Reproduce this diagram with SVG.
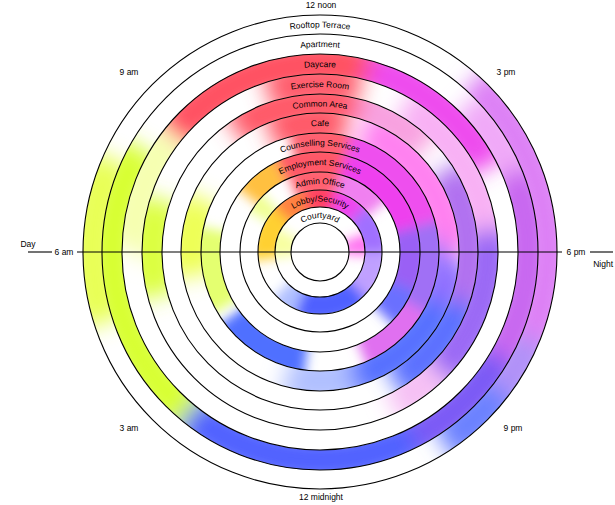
<svg xmlns="http://www.w3.org/2000/svg" xmlns:xlink="http://www.w3.org/1999/xlink" width="615" height="505" viewBox="0 0 615 505">
<style>
text{font-family:"Liberation Sans","Open Sans",sans-serif;font-size:8.5px;fill:#000}
.ring{fill:none;stroke:#000;stroke-width:1.1}
.seg{fill:none}
.lbl{text-anchor:middle}
</style>
<defs>
<filter id="b1" x="-20%" y="-20%" width="140%" height="140%"><feGaussianBlur stdDeviation="11"/></filter>
<filter id="b2" x="-30%" y="-30%" width="160%" height="160%"><feGaussianBlur stdDeviation="6"/></filter>
<clipPath id="c0"><path clip-rule="evenodd" d="M83 252a237 237 0 1 0 474 0a237 237 0 1 0 -474 0ZM102 252a218 218 0 1 0 436 0a218 218 0 1 0 -436 0Z"/></clipPath>
<clipPath id="c1"><path clip-rule="evenodd" d="M102 252a218 218 0 1 0 436 0a218 218 0 1 0 -436 0ZM122 252a198 198 0 1 0 396 0a198 198 0 1 0 -396 0Z"/></clipPath>
<clipPath id="c2"><path clip-rule="evenodd" d="M122 252a198 198 0 1 0 396 0a198 198 0 1 0 -396 0ZM142 252a178 178 0 1 0 356 0a178 178 0 1 0 -356 0Z"/></clipPath>
<clipPath id="c3"><path clip-rule="evenodd" d="M142 252a178 178 0 1 0 356 0a178 178 0 1 0 -356 0ZM162 252a158 158 0 1 0 316 0a158 158 0 1 0 -316 0Z"/></clipPath>
<clipPath id="c4"><path clip-rule="evenodd" d="M162 252a158 158 0 1 0 316 0a158 158 0 1 0 -316 0ZM181 252a139 139 0 1 0 278 0a139 139 0 1 0 -278 0Z"/></clipPath>
<clipPath id="c5"><path clip-rule="evenodd" d="M181 252a139 139 0 1 0 278 0a139 139 0 1 0 -278 0ZM201 252a119 119 0 1 0 238 0a119 119 0 1 0 -238 0Z"/></clipPath>
<clipPath id="c6"><path clip-rule="evenodd" d="M201 252a119 119 0 1 0 238 0a119 119 0 1 0 -238 0ZM220 252a100 100 0 1 0 200 0a100 100 0 1 0 -200 0Z"/></clipPath>
<clipPath id="c7"><path clip-rule="evenodd" d="M220 252a100 100 0 1 0 200 0a100 100 0 1 0 -200 0ZM240 252a80 80 0 1 0 160 0a80 80 0 1 0 -160 0Z"/></clipPath>
<clipPath id="c8"><path clip-rule="evenodd" d="M240 252a80 80 0 1 0 160 0a80 80 0 1 0 -160 0ZM258 252a62 62 0 1 0 124 0a62 62 0 1 0 -124 0Z"/></clipPath>
<clipPath id="c9"><path clip-rule="evenodd" d="M258 252a62 62 0 1 0 124 0a62 62 0 1 0 -124 0ZM275 252a45 45 0 1 0 90 0a45 45 0 1 0 -90 0Z"/></clipPath>
<clipPath id="c10"><path clip-rule="evenodd" d="M275 252a45 45 0 1 0 90 0a45 45 0 1 0 -90 0ZM291 252a29 29 0 1 0 58 0a29 29 0 1 0 -58 0Z"/></clipPath>
<path id="t0" d="M95.5 252A224.5 224.5 0 0 1 544.5 252"/>
<path id="t1" d="M115 252A205 205 0 0 1 525 252"/>
<path id="t2" d="M135 252A185 185 0 0 1 505 252"/>
<path id="t3" d="M155 252A165 165 0 0 1 485 252"/>
<path id="t4" d="M174.5 252A145.5 145.5 0 0 1 465.5 252"/>
<path id="t5" d="M194 252A126 126 0 0 1 446 252"/>
<path id="t6" d="M213.5 252A106.5 106.5 0 0 1 426.5 252"/>
<path id="t7" d="M233 252A87 87 0 0 1 407 252"/>
<path id="t8" d="M252 252A68 68 0 0 1 388 252"/>
<path id="t9" d="M269.5 252A50.5 50.5 0 0 1 370.5 252"/>
<path id="t10" d="M286 252A34 34 0 0 1 354 252"/>
</defs>
<rect width="615" height="505" fill="#fff"/>
<g id="colour-bands">
<g clip-path="url(#c0)"><g filter="url(#b1)" class="seg" stroke-width="50">
<circle cx="320" cy="252" r="227.5" pathLength="24" stroke="#e8ff55" stroke-dasharray="2.8 21.2" stroke-dashoffset="-10.8"/>
<circle cx="320" cy="252" r="227.5" pathLength="24" stroke="#dd80f5" stroke-dasharray="4.7 19.3" stroke-dashoffset="-20.8"/>
<circle cx="320" cy="252" r="227.5" pathLength="24" stroke="#b090f8" stroke-dasharray="1 23" stroke-dashoffset="-1.5"/>
<circle cx="320" cy="252" r="227.5" pathLength="24" stroke="#6a80ff" stroke-dasharray="1.3 22.7" stroke-dashoffset="-2.5"/>
</g></g>
<g clip-path="url(#c1)"><g filter="url(#b1)" class="seg" stroke-width="50">
<circle cx="320" cy="252" r="208" pathLength="24" stroke="#d8ff30" stroke-dasharray="5.4 18.6" stroke-dashoffset="-8.6"/>
<circle cx="320" cy="252" r="208" pathLength="24" stroke="#5060ff" stroke-dasharray="4.4 19.6" stroke-dashoffset="-4.2"/>
<circle cx="320" cy="252" r="208" pathLength="24" stroke="#7a58f5" stroke-dasharray="2.2 21.8" stroke-dashoffset="-2"/>
<circle cx="320" cy="252" r="208" pathLength="24" stroke="#c866f0" stroke-dasharray="3.5 20.5" stroke-dashoffset="-22.5"/>
<circle cx="320" cy="252" r="208" pathLength="24" stroke="#f0a8f8" stroke-dasharray="1.5 22.5" stroke-dashoffset="-21"/>
</g></g>
<g clip-path="url(#c2)"><g filter="url(#b1)" class="seg" stroke-width="50">
<circle cx="320" cy="252" r="188" pathLength="24" stroke="#f6ffb0" stroke-dasharray="2.5 21.5" stroke-dashoffset="-12"/>
<circle cx="320" cy="252" r="188" pathLength="24" stroke="#ff5060" stroke-dasharray="4.4 19.6" stroke-dashoffset="-14.6"/>
<circle cx="320" cy="252" r="188" pathLength="24" stroke="#ee48ee" stroke-dasharray="3.2 20.8" stroke-dashoffset="-19"/>
</g></g>
<g clip-path="url(#c3)"><g filter="url(#b1)" class="seg" stroke-width="50">
<circle cx="320" cy="252" r="168" pathLength="24" stroke="#dcff40" stroke-dasharray="2.2 21.8" stroke-dashoffset="-11"/>
<circle cx="320" cy="252" r="168" pathLength="24" stroke="#ff5c6c" stroke-dasharray="2.1 21.9" stroke-dashoffset="-16.8"/>
<circle cx="320" cy="252" r="168" pathLength="24" stroke="#f8b0f4" stroke-dasharray="3.5 20.5" stroke-dashoffset="-20"/>
<circle cx="320" cy="252" r="168" pathLength="24" stroke="#9a68f5" stroke-dasharray="3.5 20.5" stroke-dashoffset="-23.5"/>
<circle cx="320" cy="252" r="168" pathLength="24" stroke="#f6c0f4" stroke-dasharray="1.3 22.7" stroke-dashoffset="-3"/>
</g></g>
<g clip-path="url(#c4)"><g filter="url(#b1)" class="seg" stroke-width="50">
<circle cx="320" cy="252" r="148.5" pathLength="24" stroke="#ff5868" stroke-dasharray="3.3 20.7" stroke-dashoffset="-15.7"/>
<circle cx="320" cy="252" r="148.5" pathLength="24" stroke="#f8a0e0" stroke-dasharray="2 22" stroke-dashoffset="-19"/>
<circle cx="320" cy="252" r="148.5" pathLength="24" stroke="#b070f0" stroke-dasharray="3.5 20.5" stroke-dashoffset="-21.8"/>
<circle cx="320" cy="252" r="148.5" pathLength="24" stroke="#5a70ff" stroke-dasharray="2.7 21.3" stroke-dashoffset="-1.3"/>
</g></g>
<g clip-path="url(#c5)"><g filter="url(#b1)" class="seg" stroke-width="50">
<circle cx="320" cy="252" r="129" pathLength="24" stroke="#eeff55" stroke-dasharray="2.3 21.7" stroke-dashoffset="-11.3"/>
<circle cx="320" cy="252" r="129" pathLength="24" stroke="#ff5868" stroke-dasharray="2.3 21.7" stroke-dashoffset="-16.5"/>
<circle cx="320" cy="252" r="129" pathLength="24" stroke="#ff80f0" stroke-dasharray="4.7 19.3" stroke-dashoffset="-19.3"/>
<circle cx="320" cy="252" r="129" pathLength="24" stroke="#9070ff" stroke-dasharray="1.5 22.5" stroke-dashoffset="0"/>
<circle cx="320" cy="252" r="129" pathLength="24" stroke="#5570ff" stroke-dasharray="3.5 20.5" stroke-dashoffset="-1.5"/>
<circle cx="320" cy="252" r="129" pathLength="24" stroke="#b0c0ff" stroke-dasharray="2 22" stroke-dashoffset="-5"/>
</g></g>
<g clip-path="url(#c6)"><g filter="url(#b2)" class="seg" stroke-width="40">
<circle cx="320" cy="252" r="109.5" pathLength="24" stroke="#e4ff70" stroke-dasharray="2.8 21.2" stroke-dashoffset="-10"/>
<circle cx="320" cy="252" r="109.5" pathLength="24" stroke="#5070ff" stroke-dasharray="3.1 20.9" stroke-dashoffset="-6.5"/>
<circle cx="320" cy="252" r="109.5" pathLength="24" stroke="#ff6070" stroke-dasharray="2 22" stroke-dashoffset="-17"/>
<circle cx="320" cy="252" r="109.5" pathLength="24" stroke="#ee50ee" stroke-dasharray="4 20" stroke-dashoffset="-19"/>
<circle cx="320" cy="252" r="109.5" pathLength="24" stroke="#a070f5" stroke-dasharray="3 21" stroke-dashoffset="-23"/>
<circle cx="320" cy="252" r="109.5" pathLength="24" stroke="#e070f0" stroke-dasharray="2.5 21.5" stroke-dashoffset="-2"/>
</g></g>
<g clip-path="url(#c7)"><g filter="url(#b2)" class="seg" stroke-width="40">
<circle cx="320" cy="252" r="90" pathLength="24" stroke="#ffc040" stroke-dasharray="1.8 22.2" stroke-dashoffset="-14.5"/>
<circle cx="320" cy="252" r="90" pathLength="24" stroke="#ff5868" stroke-dasharray="2.7 21.3" stroke-dashoffset="-16.3"/>
<circle cx="320" cy="252" r="90" pathLength="24" stroke="#ee40ee" stroke-dasharray="4 20" stroke-dashoffset="-19"/>
<circle cx="320" cy="252" r="90" pathLength="24" stroke="#9a60f5" stroke-dasharray="2.5 21.5" stroke-dashoffset="-23"/>
<circle cx="320" cy="252" r="90" pathLength="24" stroke="#6a70ff" stroke-dasharray="1.5 22.5" stroke-dashoffset="-1.5"/>
</g></g>
<g clip-path="url(#c8)"><g filter="url(#b2)" class="seg" stroke-width="36">
<circle cx="320" cy="252" r="71" pathLength="24" stroke="#f0ff90" stroke-dasharray="1 23" stroke-dashoffset="-14"/>
<circle cx="320" cy="252" r="71" pathLength="24" stroke="#ff6070" stroke-dasharray="2.5 21.5" stroke-dashoffset="-16.5"/>
<circle cx="320" cy="252" r="71" pathLength="24" stroke="#f080f0" stroke-dasharray="2.5 21.5" stroke-dashoffset="-19"/>
</g></g>
<g clip-path="url(#c9)"><g filter="url(#b2)" class="seg" stroke-width="34">
<circle cx="320" cy="252" r="53.5" pathLength="24" stroke="#ffd030" stroke-dasharray="3.5 20.5" stroke-dashoffset="-11.5"/>
<circle cx="320" cy="252" r="53.5" pathLength="24" stroke="#ff8040" stroke-dasharray="2 22" stroke-dashoffset="-15"/>
<circle cx="320" cy="252" r="53.5" pathLength="24" stroke="#ff4060" stroke-dasharray="2 22" stroke-dashoffset="-17"/>
<circle cx="320" cy="252" r="53.5" pathLength="24" stroke="#ee44ee" stroke-dasharray="2 22" stroke-dashoffset="-19"/>
<circle cx="320" cy="252" r="53.5" pathLength="24" stroke="#a070ff" stroke-dasharray="3 21" stroke-dashoffset="-21"/>
<circle cx="320" cy="252" r="53.5" pathLength="24" stroke="#c0a0ff" stroke-dasharray="3 21" stroke-dashoffset="0"/>
<circle cx="320" cy="252" r="53.5" pathLength="24" stroke="#5060ff" stroke-dasharray="4.5 19.5" stroke-dashoffset="-3"/>
<circle cx="320" cy="252" r="53.5" pathLength="24" stroke="#b0c0ff" stroke-dasharray="1.5 22.5" stroke-dashoffset="-7.5"/>
</g></g>
<g clip-path="url(#c10)"><g filter="url(#b2)" class="seg" stroke-width="32">
<circle cx="320" cy="252" r="37" pathLength="24" stroke="#f8ffa0" stroke-dasharray="2.5 21.5" stroke-dashoffset="-11.5"/>
<circle cx="320" cy="252" r="37" pathLength="24" stroke="#ff70f0" stroke-dasharray="1.8 22.2" stroke-dashoffset="-22.5"/>
</g></g>
</g>
<g id="connectors" fill="none" stroke="#000" stroke-width="1.1">
<line x1="28" y1="252" x2="52" y2="252"/>
<line x1="77" y1="252" x2="562" y2="252"/>
<line x1="590" y1="252" x2="613" y2="252"/>
</g>
<g id="rings">
<circle class="ring" cx="320" cy="252" r="237"/>
<circle class="ring" cx="320" cy="252" r="218"/>
<circle class="ring" cx="320" cy="252" r="198"/>
<circle class="ring" cx="320" cy="252" r="178"/>
<circle class="ring" cx="320" cy="252" r="158"/>
<circle class="ring" cx="320" cy="252" r="139"/>
<circle class="ring" cx="320" cy="252" r="119"/>
<circle class="ring" cx="320" cy="252" r="100"/>
<circle class="ring" cx="320" cy="252" r="80"/>
<circle class="ring" cx="320" cy="252" r="62"/>
<circle class="ring" cx="320" cy="252" r="45"/>
<circle class="ring" cx="320" cy="252" r="29"/>
</g>
<g id="ring-labels">
<text id="rooftop"><textPath xlink:href="#t0" href="#t0" startOffset="50%" class="lbl">Rooftop Terrace</textPath></text>
<text id="apartment"><textPath xlink:href="#t1" href="#t1" startOffset="50%" class="lbl">Apartment</textPath></text>
<text id="daycare"><textPath xlink:href="#t2" href="#t2" startOffset="50%" class="lbl">Daycare</textPath></text>
<text id="exercise"><textPath xlink:href="#t3" href="#t3" startOffset="50%" class="lbl">Exercise Room</textPath></text>
<text id="common"><textPath xlink:href="#t4" href="#t4" startOffset="50%" class="lbl">Common Area</textPath></text>
<text id="cafe"><textPath xlink:href="#t5" href="#t5" startOffset="50%" class="lbl">Cafe</textPath></text>
<text id="counselling"><textPath xlink:href="#t6" href="#t6" startOffset="50%" class="lbl">Counselling Services</textPath></text>
<text id="employment"><textPath xlink:href="#t7" href="#t7" startOffset="50%" class="lbl">Employment Services</textPath></text>
<text id="admin"><textPath xlink:href="#t8" href="#t8" startOffset="50%" class="lbl">Admin Office</textPath></text>
<text id="lobby"><textPath xlink:href="#t9" href="#t9" startOffset="50%" class="lbl">Lobby/Security</textPath></text>
<text id="courtyard"><textPath xlink:href="#t10" href="#t10" startOffset="50%" class="lbl">Courtyard</textPath></text>
</g>
<g id="time-labels" class="lbl">
<text x="321" y="8" text-anchor="middle">12 noon</text>
<text x="506" y="75" text-anchor="middle">3 pm</text>
<text x="129" y="75" text-anchor="middle">9 am</text>
<text x="129" y="431" text-anchor="middle">3 am</text>
<text x="513" y="431" text-anchor="middle">9 pm</text>
<text x="321" y="500" text-anchor="middle">12 midnight</text>
<text x="28" y="247">Day</text>
<text x="64" y="255" text-anchor="middle">6 am</text>
<text x="576" y="255" text-anchor="middle">6 pm</text>
<text x="613" y="267" text-anchor="end">Night</text>
</g>
</svg>
